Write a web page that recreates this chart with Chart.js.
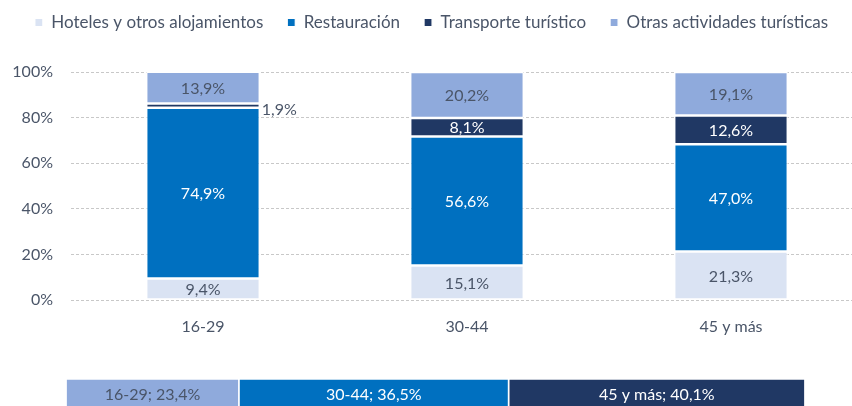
<!DOCTYPE html>
<html>
<head>
<meta charset="utf-8">
<script src="https://cdn.jsdelivr.net/npm/chart.js@4/dist/chart.umd.min.js"></script>
<style>
  html, body { margin: 0; padding: 0; background: #fff; overflow: hidden; width: 852px; height: 406px; }
  #wrap { position: relative; width: 852px; height: 406px; overflow: hidden; }
  #main { position: absolute; left: 0; top: -10px; }
  #strip { position: absolute; left: 0; top: 379px; }
</style>
</head>
<body>
<div id="wrap">
  <canvas id="main" width="880" height="350"></canvas>
  <canvas id="strip" width="852" height="30"></canvas>
</div>
<script>
// ---- data ----
const categories = ['16-29', '30-44', '45 y más'];
const seriesNames = ['Hoteles y otros alojamientos', 'Restauración', 'Transporte turístico', 'Otras actividades turísticas'];
const hoteles = [9.4, 15.1, 21.3];
const restauracion = [74.9, 56.6, 47.0];
const transporte = [1.9, 8.1, 12.6];
const otras = [13.9, 20.2, 19.1];
const yTicks = [0, 20, 40, 60, 80, 100];
const shareGroups = ['16-29', '30-44', '45 y más'];
const shareValues = [23.4, 36.5, 40.1];

// ---- styles ----
const FONT = 'Lato, "Source Sans Pro", "Noto Sans", sans-serif';
const GRAYTXT = '#4a5568';
const seriesColors = ['#dae3f3', '#0070c0', '#203864', '#8faadc'];
const seriesLabelColors = [GRAYTXT, '#ffffff', '#ffffff', GRAYTXT];
const shareColors = ['#8faadc', '#0070c0', '#203864'];
const shareLabelColors = [GRAYTXT, '#ffffff', '#ffffff'];

const fmt = v => v.toFixed(1).replace('.', ',') + '%';

const segLabels = {
  id: 'segLabels',
  afterDatasetsDraw(chart) {
    const ctx = chart.ctx;
    const horiz = chart.options.indexAxis === 'y';
    chart.data.datasets.forEach((ds, di) => {
      const meta = chart.getDatasetMeta(di);
      if (meta.hidden) return;
      meta.data.forEach((bar, i) => {
        const v = ds.data[i];
        const p = bar.getProps(['x', 'y', 'base', 'width', 'height'], true);
        const text = ds.labelPrefix ? ds.labelPrefix[i] + '; ' + fmt(v) : fmt(v);
        ctx.save();
        ctx.font = '16px ' + FONT;
        ctx.textBaseline = 'middle';
        if (horiz) {
          ctx.fillStyle = ds.labelColor;
          ctx.textAlign = 'center';
          ctx.fillText(text, (p.x + p.base) / 2, p.y + 1);
        } else if (v < 3) {
          ctx.fillStyle = GRAYTXT;
          ctx.textAlign = 'left';
          ctx.fillText(text, p.x + p.width / 2 + 2, (p.y + p.base) / 2 + 4);
        } else {
          ctx.fillStyle = ds.labelColor;
          ctx.textAlign = 'center';
          ctx.fillText(text, p.x, (p.y + p.base) / 2 + 1);
        }
        ctx.restore();
      });
    });
  }
};

// extra space below the legend
const legendGap = {
  id: 'legendGap',
  beforeInit(chart) {
    if (!chart.legend) return;
    const origFit = chart.legend.fit;
    chart.legend.fit = function () {
      origFit.call(this);
      this.height += 31;
    };
  }
};

const seriesData = [hoteles, restauracion, transporte, otras];

new Chart(document.getElementById('main'), {
  type: 'bar',
  data: {
    labels: categories,
    datasets: seriesNames.map((name, k) => ({
      label: name,
      data: seriesData[k],
      backgroundColor: seriesColors[k],
      borderColor: '#ffffff',
      borderWidth: 1.2,
      borderSkipped: false,
      labelColor: seriesLabelColors[k],
      categoryPercentage: 1,
      barPercentage: 0.43
    }))
  },
  options: {
    responsive: false,
    animation: false,
    devicePixelRatio: 1,
    layout: { padding: { top: 0, right: 17, bottom: 5, left: 0 } },
    plugins: {
      legend: {
        position: 'top',
        labels: {
          boxWidth: 8, boxHeight: 8, padding: 24,
          color: GRAYTXT,
          font: { family: FONT, size: 17 }
        }
      },
      tooltip: { enabled: false }
    },
    scales: {
      x: {
        stacked: true,
        grid: { display: false, drawTicks: false },
        border: { display: false },
        ticks: { color: GRAYTXT, font: { family: FONT, size: 16 }, padding: 17 },
        afterFit(scale) { scale.height = 35; }
      },
      y: {
        stacked: true,
        min: 0, max: 100,
        afterBuildTicks(scale) { scale.ticks = yTicks.map(v => ({ value: v })); },
        ticks: { color: GRAYTXT, font: { family: FONT, size: 16 }, padding: 18, callback: v => v + '%' },
        grid: { color: '#c8c8c8', lineWidth: 1, drawTicks: false },
        border: { display: false, dash: [3, 2] },
        afterFit(scale) { scale.width = 71; }
      }
    }
  },
  plugins: [legendGap, segLabels]
});

new Chart(document.getElementById('strip'), {
  type: 'bar',
  data: {
    labels: ['share'],
    datasets: shareGroups.map((g, k) => ({
      label: g,
      data: [shareValues[k]],
      backgroundColor: shareColors[k],
      borderColor: '#ffffff',
      borderWidth: 1.2,
      borderSkipped: false,
      labelColor: shareLabelColors[k],
      labelPrefix: [g],
      categoryPercentage: 1,
      barPercentage: 1
    }))
  },
  options: {
    indexAxis: 'y',
    responsive: false,
    animation: false,
    devicePixelRatio: 1,
    layout: { padding: { top: 0, right: 47, bottom: 0, left: 66 } },
    plugins: { legend: { display: false }, tooltip: { enabled: false } },
    scales: {
      x: { stacked: true, min: 0, max: 100, display: false },
      y: { stacked: true, display: false }
    }
  },
  plugins: [segLabels]
});
</script>
</body>
</html>
